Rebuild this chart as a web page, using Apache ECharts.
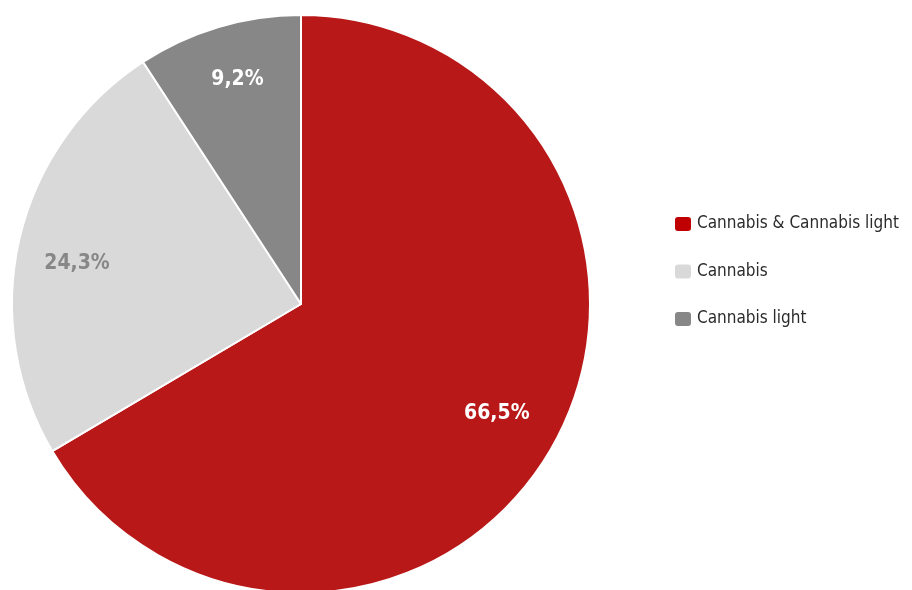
<!DOCTYPE html>
<html>
<head>
<meta charset="utf-8">
<script src="https://cdn.jsdelivr.net/npm/echarts@6/dist/echarts.min.js"></script>
<style>
  html, body { margin: 0; padding: 0; background: #fff; }
  #myChart { width: 912px; height: 590px; }
</style>
</head>
<body>
<div id="myChart"></div>
<script>
// dati
const categories = ['Cannabis & Cannabis light', 'Cannabis', 'Cannabis light'];
const shares = [66.5, 24.3, 9.2];
const colors = ['#B91818', '#D9D9D9', '#878787'];
const labelColors = ['#ffffff', '#878787', '#ffffff'];
const labelOffsets = [[-4, -4], [0, 12], [2, -4]];

const font = "'Liberation Sans Narrow', 'DejaVu Sans Condensed', sans-serif";
const center = [301, 304];

let myChart = echarts.init(document.getElementById('myChart'));

const data = categories.map((name, i) => ({
    name,
    value: shares[i],
    itemStyle: {color: colors[i]}
}));

// serie trasparente solo per spostare le etichette verso il bordo
const labelData = categories.map((name, i) => ({
    name,
    value: shares[i],
    label: {color: labelColors[i], offset: labelOffsets[i]}
}));

let option = {
    animation: false,
    legend: {
        orient: 'vertical',
        left: 668,
        top: 209,
        icon: 'roundRect',
        itemWidth: 18,
        itemHeight: 16,
        itemGap: 27.5,
        itemTextGap: 6,
        data: categories.map((name, i) => ({name, itemStyle: {color: i === 0 ? '#C00000' : colors[i]}})),
        textStyle: {fontFamily: font, fontSize: 17, color: '#2b2b2b', lineHeight: 20}
    },
    series: [
        {
            type: 'pie',
            center,
            radius: 289,
            startAngle: 90,
            clockwise: true,
            data,
            label: {show: false},
            labelLine: {show: false},
            itemStyle: {borderColor: '#fff', borderWidth: 2},
            emphasis: {disabled: true}
        },
        {
            type: 'pie',
            center,
            radius: [165, 289],
            startAngle: 90,
            clockwise: true,
            data: labelData,
            silent: true,
            itemStyle: {color: 'rgba(0,0,0,0)'},
            label: {
                show: true,
                position: 'inside',
                fontFamily: font,
                fontWeight: 'bold',
                fontSize: 21,
                formatter: p => p.value.toFixed(1).replace('.', ',') + '%'
            },
            labelLine: {show: false},
            emphasis: {disabled: true}
        }
    ]
};

myChart.setOption(option);
</script>
</body>
</html>
